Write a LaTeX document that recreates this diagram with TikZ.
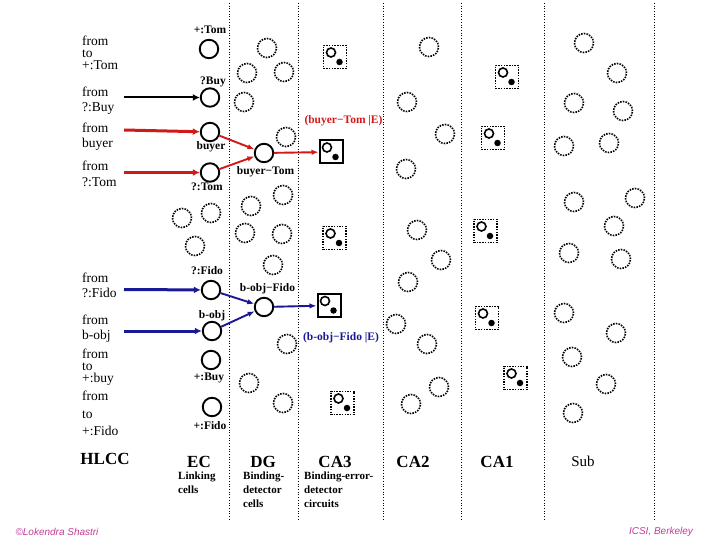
\documentclass[tikz,border=0pt]{standalone}
\usepackage{fontspec}
\setmainfont{Liberation Serif}
\newfontfamily\signfont{Liberation Sans}
\usetikzlibrary{arrows.meta}

\definecolor{bindred}{RGB}{210,25,25}
\definecolor{bindblue}{RGB}{25,25,150}
\definecolor{signpink}{RGB}{195,60,150}

\tikzset{
    cell/.style={circle, draw, line width=1.9pt, minimum size=18.5pt, inner sep=0pt},
    idle/.style={circle, draw, line width=1.6pt, dash pattern=on 1.5pt off 1.2pt, minimum size=19pt, inner sep=0pt},
    trace/.style={rectangle, draw, line width=2pt, minimum size=23pt, inner sep=0pt},
    idletrace/.style={trace, line width=1.6pt, dash pattern=on 1.5pt off 1.2pt},
    ring/.style={circle, draw, solid, line width=1.6pt, minimum size=9pt, inner sep=0pt},
    spot/.style={circle, fill, minimum size=6.5pt, inner sep=0pt},
    tag/.style={font=\fontsize{11.5}{13}\selectfont\bfseries, inner sep=0pt},
    source/.style={align=left, anchor=north west, inner sep=0pt},
    region/.style={font=\fontsize{17}{20}\selectfont\bfseries, inner sep=0pt},
    role/.style={align=left, anchor=north west, inner sep=0pt, font=\fontsize{11}{14}\selectfont\bfseries},
}

\begin{document}
\begin{tikzpicture}[x=1pt, y=-1pt]
    \useasboundingbox (0,0) rectangle (720,540);

    \foreach \x in {229,298,383,461,544,654}
        \draw [dotted, line width=0.7pt] (\x,3) -- (\x,521);

    % where the inputs come from
    \begin{scope}[every node/.style={source, font=\fontsize{13.5}{12}\selectfont}]
        \node (s1) at (82,36) {from\\to\\+:Tom};
        \node (s2) [font=\fontsize{13.5}{15}\selectfont] at (82,87) {from\\?:Buy};
        \node (s3) [font=\fontsize{13.5}{15}\selectfont] at (82,123) {from\\buyer};
        \node (s4) [font=\fontsize{13.5}{16}\selectfont] at (82,161) {from\\?:Tom};
        \node (s5) [font=\fontsize{13.5}{14.5}\selectfont] at (82,273) {from\\?:Fido};
        \node (s6) [font=\fontsize{13.5}{15}\selectfont] at (82,315) {from\\b-obj};
        \node (s7) at (82,349) {from\\to\\+:buy};
        \node (s8) [font=\fontsize{13.5}{17.5}\selectfont] at (82,391) {from\\to\\+:Fido};
    \end{scope}

    \coordinate (f2) at (124,97.5);
    \coordinate (f3) at (124,130);
    \coordinate (f4) at (124,172.5);
    \coordinate (f5) at (124,289.5);
    \coordinate (f6) at (124,331);

    % linking cells
    \begin{scope}[every node/.style={cell}]
        \node (e1) at (209,49) {};
        \node (e2) at (210,97.5) {};
        \node (e3) at (210,132) {};
        \node (e4) at (210,172.5) {};
        \node (e5) at (211,290) {};
        \node (e6) at (212,331) {};
        \node (e7) at (211,360) {};
        \node (e8) at (212,407) {};
        \node (d1) at (264,153) {};
        \node (d2) at (264,307) {};
    \end{scope}

    \begin{scope}[every node/.style={tag}]
        \node (t1) at (210,30) {+:Tom};
        \node (t2) at (213,82) {?Buy};
        \node (t3) at (211,147) {buyer};
        \node (t4) at (207,187) {?:Tom};
        \node (t5) at (207,271) {?:Fido};
        \node (t6) at (212,316) {b-obj};
        \node (t7) at (209,378) {+:Buy};
        \node (t8) at (210,426) {+:Fido};
        \node (t9) at (265.5,172) {buyer−Tom};
        \node (t10) at (267.5,288.5) {b-obj−Fido};
        \node (t11) [text=bindred] at (343.5,121) {(buyer−Tom |E)};
        \node (t12) [text=bindblue] at (341,337.5) {(b-obj−Fido |E)};
    \end{scope}

    % cells at rest
    \begin{scope}[every node/.style={idle}]
        \foreach \p [count=\i] in {(182,218),(211,213),(195,246),
                (267,48),(247,73),(284,72),(244,102),(286,137),(283,195),(251,206),
                (245,233),(282,234),(273,265),(287,344),(249,383),(283,403),
                (429,47),(407,102),(445,134),(406,169),(417,230),(441,260),
                (408,282),(396,324),(427,344),(439,387),(411,404),
                (584,43),(617,73),(574,103),(623,111),(564,146),(609,143),
                (574,202),(635,198),(614,226),(569,253),(621,259),(564,313),
                (616,333),(572,357),(606,384),(573,413)}
            \node (r\i) at \p {};
    \end{scope}

    % binding-error detectors
    \node (c1) [trace] at (331,152) {};
    \node (c2) [trace] at (329,305.5) {};
    \foreach \p [count=\i] in {(335,57),(334.5,238),(342.5,403),
            (507,77),(493,138),(485.5,231),(487,318),(515.5,378)}
        \node (q\i) [idletrace] at \p {};
    \foreach \b in {c1,c2,q1,q2,q3,q4,q5,q6,q7,q8} {
        \node (\b o) [ring] at ([shift={(-4,-4.5)}]\b.center) {};
        \node (\b d) [spot] at ([shift={(4.5,5)}]\b.center) {};
    }

    \begin{scope}[every edge/.style={draw, line width=3pt, -{Latex[length=7pt,width=7pt]}}]
        \path (f2) edge [line width=2pt] (e2);
        \path [bindred] (f3) edge (e3)
                        (f4) edge (e4);
        \path [bindblue] (f5) edge (e5)
                         (f6) edge (e6);
    \end{scope}

    \begin{scope}[every edge/.style={draw, line width=1.9pt, -{Latex[length=7pt,width=5.5pt]}}]
        \path [bindred] (e3) edge (d1)
                        (e4) edge (d1)
                        (d1) edge (c1);
        \path [bindblue] (e5) edge (d2)
                         (e6) edge (d2)
                         (d2) edge (c2);
    \end{scope}

    \begin{scope}[every node/.style={region}]
        \node (hlcc) at (105,459) {HLCC};
        \node (ec) at (199,461.5) {EC};
        \node (dg) at (263,461.5) {DG};
        \node (ca3) at (335,461.5) {CA3};
        \node (ca2) at (413,461.5) {CA2};
        \node (ca1) at (497,461.5) {CA1};
        \node (sub) [font=\fontsize{15}{18}\selectfont] at (583,461.5) {Sub};
    \end{scope}

    \node (w1) [role] at (178,472) {Linking\\cells};
    \node (w2) [role] at (243,472) {Binding-\\detector\\cells};
    \node (w3) [role] at (304,472) {Binding-error-\\detector\\circuits};

    \node (sign) [text=signpink, font=\signfont\itshape\fontsize{10}{12}\selectfont] at (57,532) {©Lokendra Shastri};
    \node (site) [text=signpink, font=\signfont\itshape\fontsize{10}{12}\selectfont] at (661,532) {ICSI, Berkeley};
\end{tikzpicture}
\end{document}
